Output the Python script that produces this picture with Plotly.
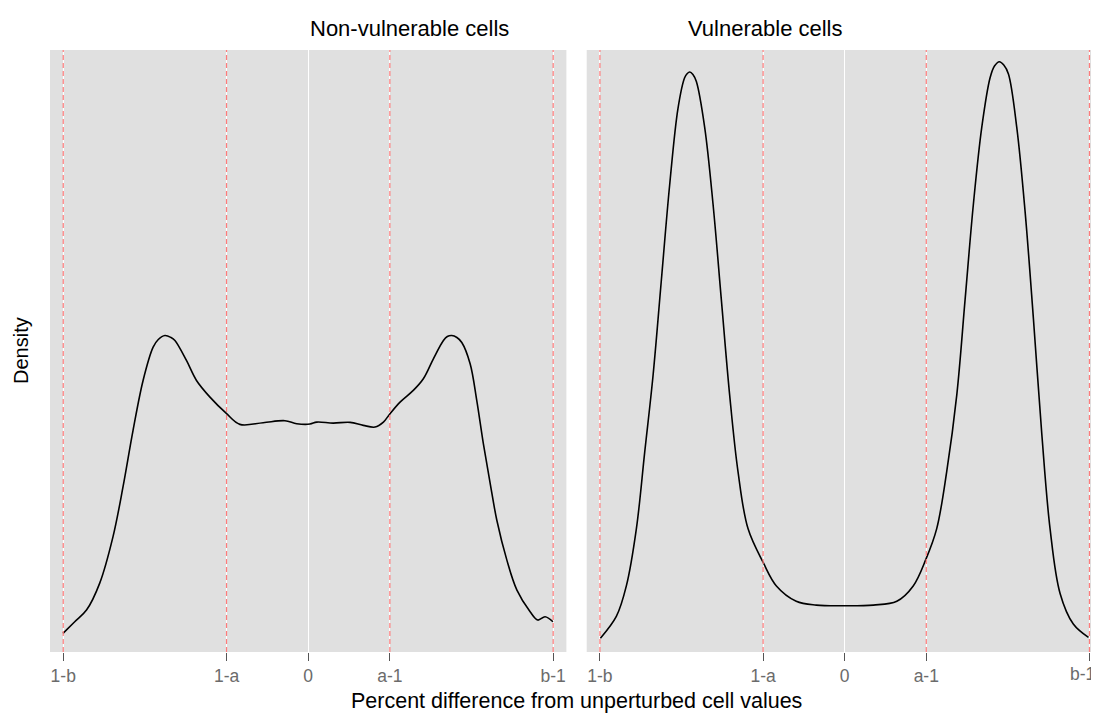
import plotly.graph_objects as go

# Tick positions / labels (x in units where b-1 = 1, a-1 = 1/3)
tick_vals = [-1.0, -1/3, 0.0, 1/3, 1.0]
tick_text = ["1-b", "1-a", "0", "a-1", "b-1"]
ref_lines = [-1.0, -1/3, 1/3, 1.0]

panel_titles = ["Non-vulnerable cells", "Vulnerable cells"]

# Non-vulnerable cells density curve
nonvul_x = [-1.001, -0.953, -0.905, -0.851, -0.797, -0.756, -0.715, -0.674, -0.633, -0.612,
            -0.585, -0.560, -0.544, -0.497, -0.456, -0.401, -0.333, -0.279, -0.184, -0.095,
            -0.047, 0.007, 0.035, 0.102, 0.171, 0.225, 0.273, 0.307, 0.334, 0.375,
            0.429, 0.470, 0.511, 0.552, 0.568, 0.586, 0.607, 0.627, 0.661, 0.688,
            0.715, 0.743, 0.770, 0.811, 0.852, 0.906, 0.937, 0.967, 0.999]
nonvul_y = [0.187, 0.303, 0.42, 0.69, 1.153, 1.653, 2.22, 2.72, 3.053, 3.13,
            3.17, 3.15, 3.12, 2.92, 2.72, 2.553, 2.387, 2.28, 2.297, 2.317,
            2.287, 2.283, 2.303, 2.293, 2.30, 2.27, 2.253, 2.303, 2.387, 2.503,
            2.62, 2.737, 2.937, 3.12, 3.16, 3.17, 3.15, 3.10, 2.887, 2.52,
            2.087, 1.687, 1.32, 0.92, 0.62, 0.403, 0.32, 0.353, 0.303]

# Vulnerable cells density curve
vul_x = [-0.998, -0.933, -0.892, -0.851, -0.817, -0.783, -0.749, -0.715, -0.681, -0.654,
         -0.643, -0.633, -0.620, -0.606, -0.572, -0.538, -0.504, -0.470, -0.436, -0.395,
         -0.332, -0.279, -0.198, -0.116, -0.007, 0.117, 0.213, 0.280, 0.332, 0.376,
         0.417, 0.458, 0.492, 0.526, 0.560, 0.594, 0.612, 0.632, 0.650, 0.669,
         0.703, 0.737, 0.771, 0.805, 0.839, 0.880, 0.934, 0.996]
vul_y = [0.138, 0.356, 0.662, 1.236, 2.002, 2.767, 3.724, 4.68, 5.446, 5.752,
         5.795, 5.81, 5.785, 5.714, 5.255, 4.49, 3.532, 2.576, 1.81, 1.236,
         0.892, 0.662, 0.509, 0.47, 0.463, 0.47, 0.509, 0.662, 0.93, 1.236,
         1.81, 2.576, 3.532, 4.49, 5.255, 5.752, 5.87, 5.913, 5.88, 5.79,
         5.255, 4.413, 3.341, 2.193, 1.236, 0.586, 0.28, 0.146]

# The page body has an 8px margin, so the figure is 8px smaller
W, H = 1091, 705
ML, MR, MT, MB = 42, 0, 42, 61
pw = W - ML - MR

fig = go.Figure()
fig.add_trace(go.Scatter(x=nonvul_x, y=nonvul_y, mode="lines",
                         line=dict(color="black", width=1.6, shape="spline", smoothing=1.0),
                         xaxis="x", yaxis="y", showlegend=False, hoverinfo="skip"))
fig.add_trace(go.Scatter(x=vul_x, y=vul_y, mode="lines",
                         line=dict(color="black", width=1.6, shape="spline", smoothing=1.0),
                         xaxis="x2", yaxis="y2", showlegend=False, hoverinfo="skip"))

shapes = []
for xr, yr in [("x", "y"), ("x2", "y2")]:
    for v in ref_lines:
        shapes.append(dict(type="line", xref=xr, yref=yr + " domain", x0=v, x1=v, y0=0, y1=1,
                           line=dict(color="#ff7b7b", width=1.2, dash="5px,3px"), layer="above"))
fig.update_layout(shapes=shapes)

tick_font = dict(family="Liberation Sans, Arial", size=17.5, color="#6b6b6b")
dom1 = [0, 516.4 / pw]
dom2 = [536.7 / pw, 1]
axis_common = dict(tickvals=tick_vals, ticktext=tick_text, showgrid=True, gridcolor="white",
                   gridwidth=1.3, zeroline=False, ticks="outside", ticklen=8, tickwidth=1.3,
                   tickcolor="#555555", tickfont=tick_font, showline=False)
yaxis_common = dict(range=[0, 6.03], showticklabels=False, showgrid=False, zeroline=False,
                    ticks="", showline=False)

fig.update_layout(
    width=W, height=H,
    margin=dict(l=ML, r=MR, t=MT, b=MB),
    paper_bgcolor="white", plot_bgcolor="#e0e0e0",
    xaxis=dict(domain=dom1, range=[-1.054, 1.054], anchor="y", **axis_common),
    xaxis2=dict(domain=dom2, range=[-1.054, 1.039], anchor="y2", **axis_common),
    yaxis=dict(domain=[0, 1], anchor="x", **yaxis_common),
    yaxis2=dict(domain=[0, 1], anchor="x2", **yaxis_common),
    font=dict(family="Liberation Sans, Arial", color="black"),
)

ann = []
for i, t in enumerate(panel_titles):
    d = dom1 if i == 0 else [536.7 / pw, 1052.8 / pw]
    ann.append(dict(text=t, x=(d[0] + d[1]) / 2, y=1, xref="paper", yref="paper",
                    yanchor="middle", yshift=22, showarrow=False,
                    font=dict(size=22, color="black")))
# Right panel's last tick label sits at the page edge; plotly would drop it, so place it explicitly
ann.append(dict(text=tick_text[-1], x=1, y=0, xref="paper", yref="paper", xanchor="right",
                yanchor="middle", yshift=-22, xshift=-2, showarrow=False, font=tick_font))
ann.append(dict(text="Percent difference from unperturbed cell values", x=(1052.8 / pw) / 2,
                y=0, xref="paper", yref="paper", yanchor="middle", yshift=-49, showarrow=False,
                font=dict(size=21.5, color="black")))
ann.append(dict(text="Density", x=0, y=0.5, xref="paper", yref="paper", xanchor="center",
                xshift=-29, textangle=-90, showarrow=False, font=dict(size=20, color="black")))
fig.update_layout(annotations=ann)

fig.write_html("out.html")
